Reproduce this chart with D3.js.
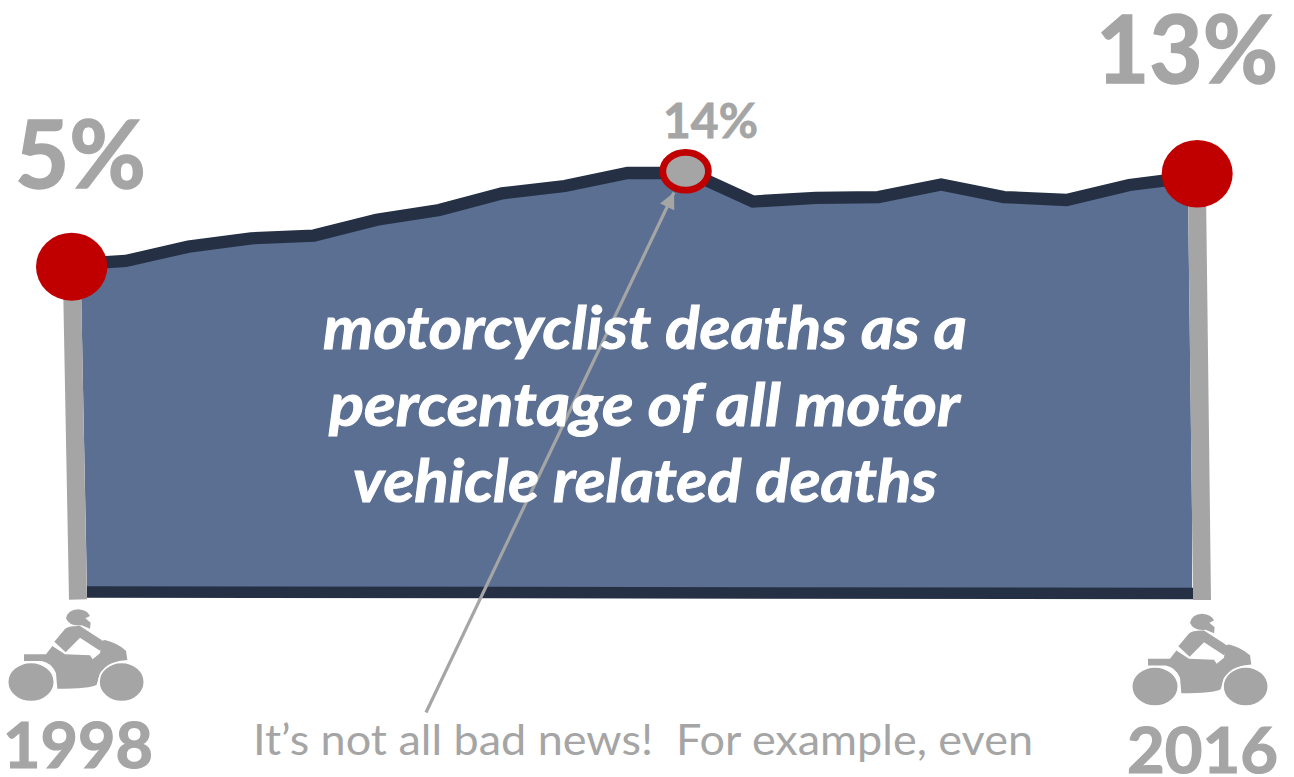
<!DOCTYPE html>
<html><head><meta charset="utf-8">
<script src="https://cdn.jsdelivr.net/npm/d3@7"></script>
<style>html,body{margin:0;padding:0;background:#fff;overflow:hidden}svg{display:block}text{font-family:Lato,"Open Sans",sans-serif;white-space:pre}</style>
</head><body><svg id="c" width="1294" height="777"></svg>
<script>
const years=[1998,1999,2000,2001,2002,2003,2004,2005,2006,2007,2008,2009,2010,2011,2012,2013,2014,2015,2016];
const levels=[5.0,5.36,6.63,7.37,7.62,9.03,9.89,11.37,12.02,13.18,13.18,10.64,10.96,11.04,12.16,11.04,10.78,12.11,12.82];
const bigLabels=["5%","13%","14%"];
const yearLabels=["1998","2016"];
const captionLines=["motorcyclist deaths as a","percentage of all motor","vehicle related deaths"];
const footnote="It’s not all bad news!  For example, even";

const GREY="#a5a5a5",NAVY="#253044",FILL="#5b6f92",RED="#c00000";
const svg=d3.select("#c");
const x=d3.scaleLinear().domain([1998,2016]).range([63,1192]);
const y=d3.scaleLinear().domain([5,13]).range([265,175]);
const baseL=[87,592],baseR=[1193,593.5];

const defs=svg.append("defs");
defs.append("clipPath").attr("id","clip").append("polygon").attr("points","75.4,0 87.2,600 1193.1,600 1185.6,0");
defs.append("marker").attr("id","ah").attr("viewBox","0 0 10 10").attr("refX",10).attr("refY",5)
 .attr("markerWidth",5).attr("markerHeight",5).attr("orient","auto").attr("markerUnits","strokeWidth")
 .append("path").attr("d","M0,0L10,5L0,10Z").attr("fill",GREY);

const pts=years.map((d,i)=>({d,v:levels[i]}));
svg.append("path").datum(pts).attr("clip-path","url(#clip)").attr("fill",FILL)
 .attr("d",d3.area().x(p=>x(p.d)).y1(p=>y(p.v)).y0(baseL[1]));
// posts
svg.append("line").attr("x1",72).attr("y1",280).attr("x2",78).attr("y2",599.5).attr("stroke",GREY).attr("stroke-width",18);
svg.append("line").attr("x1",1197).attr("y1",190).attr("x2",1202).attr("y2",600).attr("stroke",GREY).attr("stroke-width",18);
// base and top lines
svg.append("line").attr("x1",baseL[0]).attr("y1",baseL[1]).attr("x2",baseR[0]).attr("y2",baseR[1]).attr("stroke",NAVY).attr("stroke-width",11.5);
svg.append("path").datum(pts).attr("fill","none").attr("stroke",NAVY).attr("stroke-width",12.3).attr("stroke-linejoin","miter")
 .attr("d",d3.line().x(p=>x(p.d)).y(p=>y(p.v)));

// arrow sits beneath the caption
svg.append("line").attr("x1",426).attr("y1",712.5).attr("x2",674).attr("y2",192.5).attr("stroke",GREY).attr("stroke-width",3.2).attr("marker-end","url(#ah)");

// caption
const capX=[323,329,353],capW=[644,631,584],capY=[349,426,501.5];
const cap=svg.append("g").attr("fill","#fff").attr("stroke","#fff").attr("stroke-width",1).attr("font-weight",700).attr("font-style","italic").attr("font-size",59);
captionLines.forEach((t,i)=>cap.append("text").attr("x",capX[i]).attr("y",capY[i]).attr("textLength",capW[i]).attr("lengthAdjust","spacingAndGlyphs").text(t));

// markers
const mark=[[71.7,266.7,35.7,34],[1197.2,173.8,35.5,33.8]];
svg.selectAll("ellipse.m").data(mark).join("ellipse").attr("class","m")
 .attr("cx",d=>d[0]).attr("cy",d=>d[1]).attr("rx",d=>d[2]).attr("ry",d=>d[3]).attr("fill",RED);
svg.append("ellipse").attr("cx",x(2008)-4.6).attr("cy",171.2).attr("rx",22.8).attr("ry",18.9).attr("fill",GREY).attr("stroke",RED).attr("stroke-width",6.7);

// labels
const T=(s,xx,yy,fs,len,sw,w)=>svg.append("text").attr("x",xx).attr("y",yy).attr("font-size",fs).attr("font-weight",w||700)
  .attr("fill",GREY).attr("stroke",GREY).attr("stroke-width",sw).attr("textLength",len).attr("lengthAdjust","spacingAndGlyphs").text(s);
T(bigLabels[0],15,188,94,131,1.5);
T(bigLabels[1],1096,83.3,94,182,1.5);
T(bigLabels[2],663,137.5,47,95,0.8);
T(yearLabels[0],3,768.3,64,150,1.2);
T(yearLabels[1],1127,772.7,64,151,1.2);
T(footnote,253,755,43,780,0,400);

// motorcycle icon
const bike=[
 "M72,193 L138,193 L157,168 L195,193 L270,196 L278,208 L300,190 L305,152 L315,150 Q350,158 378,182 L382,210 Q330,212 300,250 L290,284 Q270,296 172,296 L168,250 Q155,218 125,213 L72,213 Z",
 "M163,155 L195,117 Q205,107 240,108 L305,150 L308,165 L300,182 L240,143 L197,187 Z",
 "M198,85 Q203,60 235,58 Q262,60 270,78 L256,85 L272,98 L270,116 L245,106 Q208,110 198,85 Z"
];
[[0,590],[1124,594.5]].forEach(([ox,oy])=>{
 const g=svg.append("g").attr("transform",`translate(${ox},${oy}) scale(${1/3})`).attr("fill",GREY);
 bike.forEach(d=>g.append("path").attr("d",d));
 g.append("ellipse").attr("cx",93).attr("cy",276).attr("rx",70).attr("ry",59).attr("stroke","#fff").attr("stroke-width",5);
 g.append("ellipse").attr("cx",365).attr("cy",276).attr("rx",68).attr("ry",59).attr("stroke","#fff").attr("stroke-width",5);
});
</script></body></html>
